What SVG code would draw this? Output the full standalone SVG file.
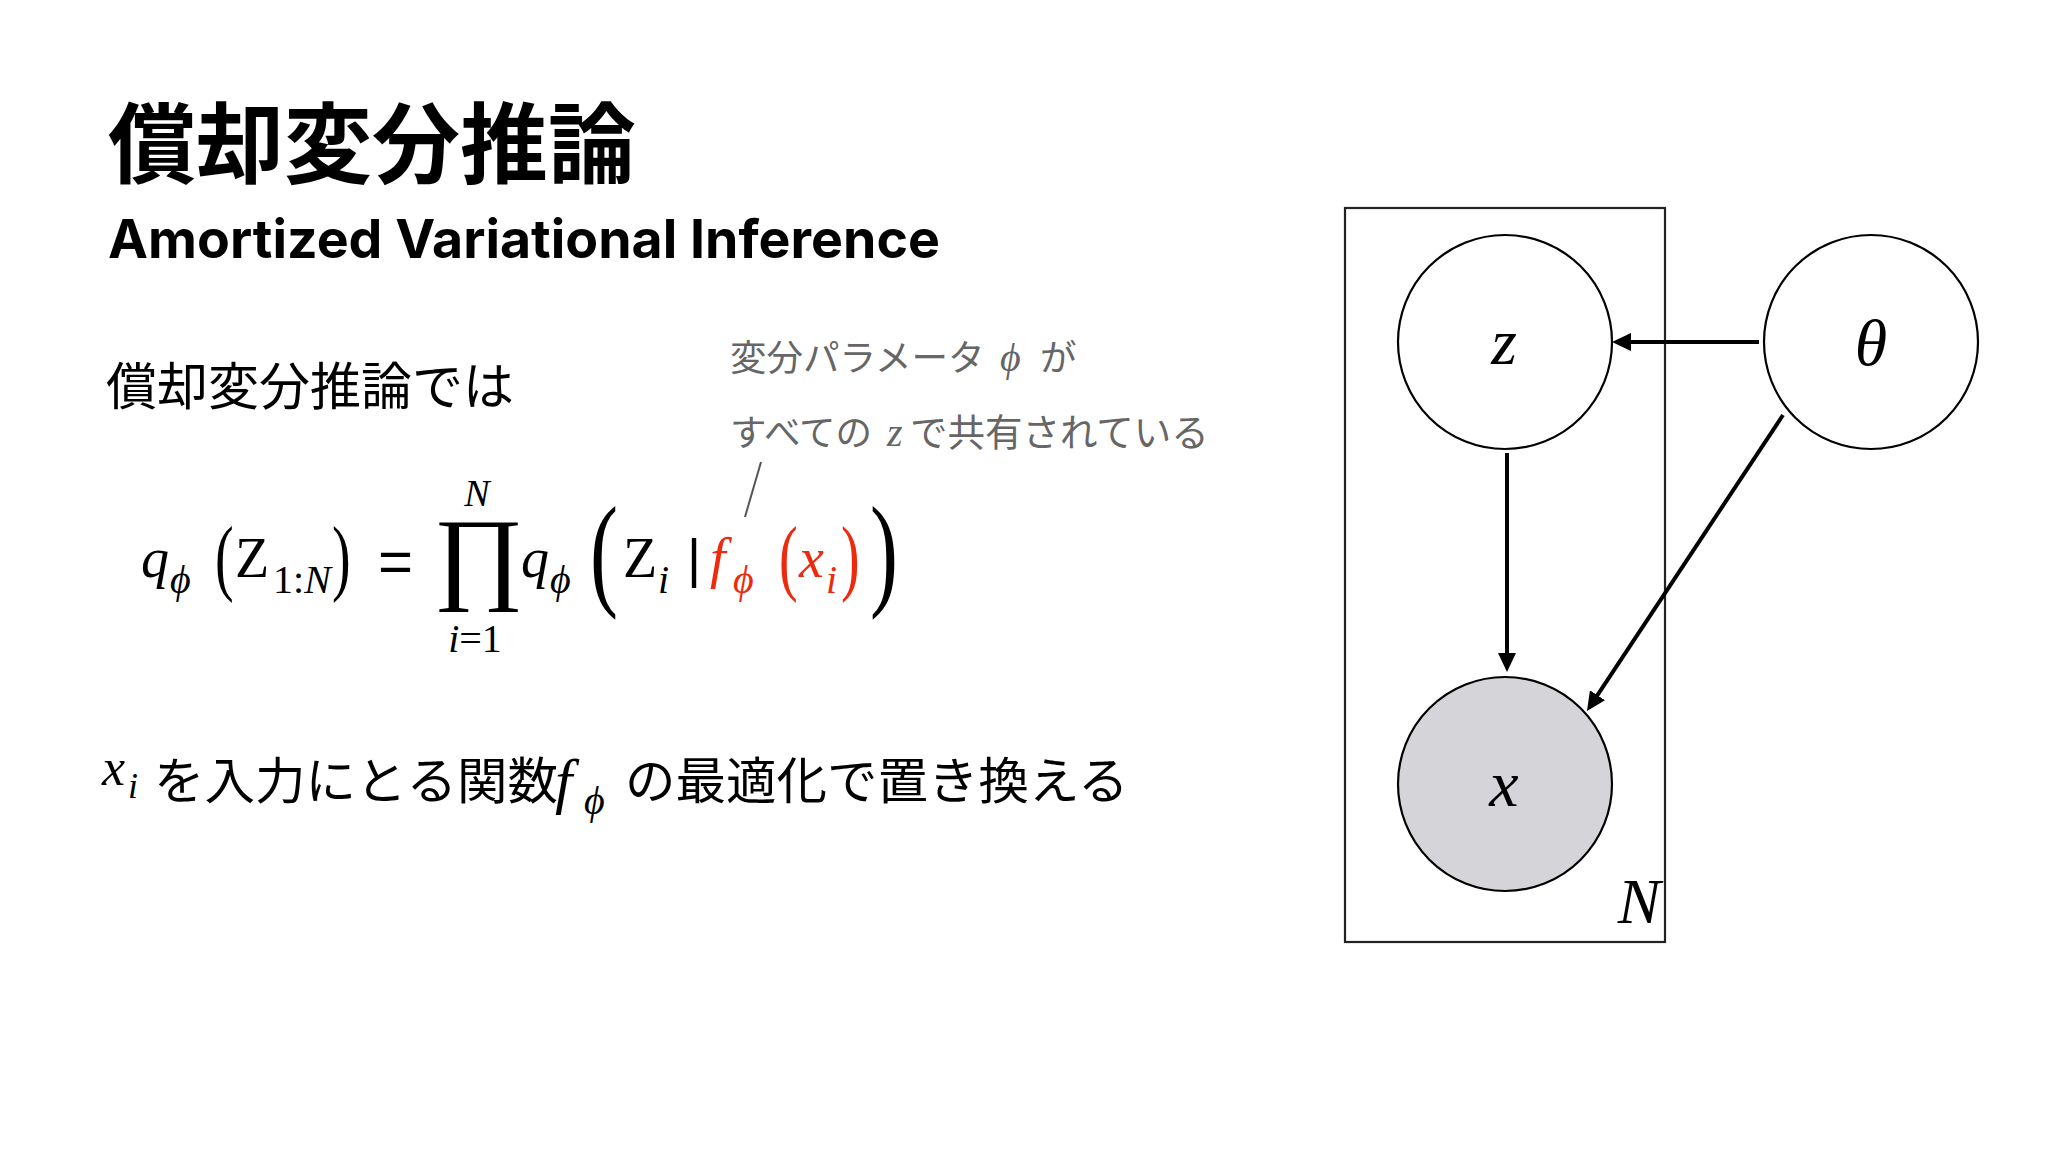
<svg xmlns="http://www.w3.org/2000/svg" width="2048" height="1152" viewBox="0 0 2048 1152">
  <defs>
    <style>
      .title { font-family: "Noto Sans CJK JP", sans-serif; font-weight: 700; font-size: 88px; fill: #000; }
      .sub { font-family: Inter, "Liberation Sans", sans-serif; font-weight: 700; font-size: 54px; fill: #000; }
      .body { font-family: "Noto Sans CJK JP", sans-serif; font-size: 50.5px; fill: #000; }
      .note { font-family: "Noto Sans CJK JP", sans-serif; font-size: 36.5px; fill: #666; }
      .m { font-family: "Liberation Serif", "DejaVu Serif", serif; fill: #000; }
      .mi { font-family: "Liberation Serif", "DejaVu Serif", serif; font-style: italic; }
      .red { fill: #ee2a0e; }
      .node { stroke: #000; stroke-width: 2.2; }
      .lbl { font-family: "Liberation Serif", "DejaVu Serif", serif; font-style: italic; font-size: 66px; fill: #000; text-anchor: middle; }
      .edge { stroke: #000; stroke-width: 4; fill: none; }
    </style>
    <marker id="ah" markerUnits="userSpaceOnUse" markerWidth="20" markerHeight="20" refX="9" refY="9" orient="auto">
      <path d="M0,0 L19,9 L0,18 Z" fill="#000"/>
    </marker>
  </defs>

  <rect width="2048" height="1152" fill="#ffffff"/>

  <!-- Title -->
  <g id="title">
    <text class="title" x="108" y="176">償却変分推論</text>
    <text class="sub" x="108" y="258" textLength="832" lengthAdjust="spacingAndGlyphs">Amortized Variational Inference</text>
  </g>

  <g id="intro">
    <text class="body" x="106" y="405" style="font-size:51px">償却変分推論では</text>
  </g>

  <!-- Annotation -->
  <g id="annotation">
    <text class="note" x="730" y="371">変分パラメータ</text>
    <text class="mi" x="1000" y="371" font-size="40" fill="#666">ϕ</text>
    <text class="note" x="1040" y="371">が</text>
    <text class="note" x="730" y="446">すべての</text>
    <text class="mi" x="887" y="446" font-size="40" fill="#666">z</text>
    <text class="note" x="910" y="446" style="font-size:37.5px">で共有されている</text>
    <line x1="761" y1="462" x2="745" y2="517" stroke="#555" stroke-width="2"/>
  </g>

  <!-- Equation -->
  <g id="equation" class="m">
    <text class="mi" x="141" y="577" font-size="56">q</text>
    <text class="mi" x="170" y="593" font-size="40">ϕ</text>
    <text transform="translate(215,585) scale(1,1.5)" font-size="56">(</text>
    <text x="235" y="577" font-size="56">Z</text>
    <text x="273" y="593" font-size="40">1:<tspan class="mi">N</tspan></text>
    <text transform="translate(332,585) scale(1,1.5)" font-size="56">)</text>
    <text x="378" y="582" font-size="60" style="font-family:'Liberation Sans',sans-serif">=</text>
    <text transform="translate(433,590) scale(1.2,1.12)" font-size="92">∏</text>
    <text class="mi" x="477" y="506" font-size="38" text-anchor="middle">N</text>
    <text x="475" y="652" font-size="40" text-anchor="middle"><tspan class="mi">i</tspan>=1</text>
    <text class="mi" x="521" y="577" font-size="56">q</text>
    <text class="mi" x="550" y="593" font-size="40">ϕ</text>
    <text transform="translate(590,593) scale(1,1.5)" font-size="84">(</text>
    <text x="623" y="577" font-size="56">Z</text>
    <text class="mi" x="658" y="593" font-size="40">i</text>
    <text x="687" y="577" font-size="54" style="font-family:'Liberation Sans',sans-serif">|</text>
    <text class="mi red" x="710" y="577" font-size="56">f</text>
    <text class="mi red" x="733" y="593" font-size="40">ϕ</text>
    <text class="red" transform="translate(779,585) scale(1,1.5)" font-size="56">(</text>
    <text class="mi red" x="799" y="577" font-size="56">x</text>
    <text class="mi red" x="826" y="593" font-size="40">i</text>
    <text class="red" transform="translate(841,585) scale(1,1.5)" font-size="56">)</text>
    <text transform="translate(870,593) scale(1,1.5)" font-size="84">)</text>
  </g>

  <!-- Bottom sentence -->
  <g id="sentence">
    <text class="mi" x="102" y="785" font-size="52">x</text>
    <text class="mi" x="128" y="798" font-size="36">i</text>
    <text class="body" x="154" y="799">を入力にとる関数</text>
    <text class="mi" x="555" y="802" font-size="62">f</text>
    <text class="mi" x="584" y="814" font-size="40">ϕ</text>
    <text class="body" x="625" y="799">の最適化で置き換える</text>
  </g>

  <!-- Graphical model -->
  <g id="plate">
    <rect x="1345" y="208" width="320" height="734" fill="none" stroke="#222" stroke-width="2.2"/>
    <text class="lbl" x="1639" y="923" style="font-size:64px">N</text>
  </g>

  <g id="node-z">
    <circle class="node" cx="1505" cy="342" r="107" fill="#fff"/>
    <text class="lbl" x="1504" y="364">z</text>
  </g>

  <g id="node-theta">
    <circle class="node" cx="1871" cy="342" r="107" fill="#fff"/>
    <text class="lbl" x="1871" y="365">θ</text>
  </g>

  <g id="node-x">
    <circle class="node" cx="1505" cy="784" r="107" fill="#d5d4d8"/>
    <text class="lbl" x="1504" y="806">x</text>
  </g>

  <g id="connectors">
    <line class="edge" x1="1759" y1="342" x2="1622" y2="342" marker-end="url(#ah)"/>
    <line class="edge" x1="1507" y1="453" x2="1507" y2="662" marker-end="url(#ah)"/>
    <line class="edge" x1="1783" y1="415" x2="1592.5" y2="702.7" marker-end="url(#ah)"/>
  </g>
</svg>
